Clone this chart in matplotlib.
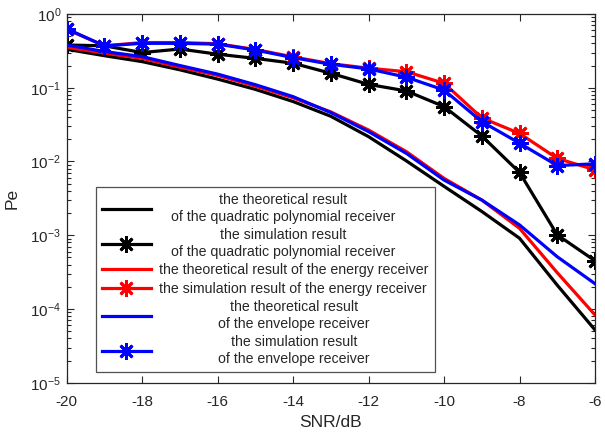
import matplotlib
matplotlib.use("Agg")
import matplotlib.pyplot as plt
import numpy as np
from matplotlib.ticker import FixedLocator, FuncFormatter, LogLocator, NullFormatter

plt.rcParams['font.family'] = ['Liberation Sans', 'DejaVu Sans']
plt.rcParams['mathtext.default'] = 'regular'
plt.rcParams['axes.unicode_minus'] = False

snr = [-20, -19, -18, -17, -16, -15, -14, -13, -12, -11, -10, -9, -8, -7, -6]

theo_quad = [0.332, 0.272, 0.226, 0.175, 0.131, 0.095, 0.065, 0.041, 0.0217, 0.0102,
             0.0046, 0.0021, 0.00091, 0.00021, 5.2e-5]
sim_quad = [0.38, 0.37, 0.30, 0.335, 0.285, 0.25, 0.215, 0.157, 0.111, 0.0905,
            0.0555, 0.0222, 0.0071, 0.00101, 0.00045]
theo_energy = [0.353, 0.295, 0.25, 0.19, 0.147, 0.105, 0.073, 0.047, 0.0267, 0.0136,
               0.0059, 0.0030, 0.00124, 0.00031, 8.3e-5]
sim_energy = [0.62, 0.37, 0.41, 0.41, 0.395, 0.33, 0.262, 0.212, 0.184, 0.165,
              0.115, 0.039, 0.024, 0.011, 0.0077]
theo_env = [0.38, 0.31, 0.264, 0.2, 0.153, 0.11, 0.0757, 0.046, 0.0254, 0.0129,
            0.0056, 0.0030, 0.00138, 0.00051, 0.00022]
sim_env = [0.63, 0.37, 0.40, 0.40, 0.39, 0.325, 0.256, 0.208, 0.18, 0.139,
           0.093, 0.0347, 0.0177, 0.0088, 0.0093]

labels = [
    "the theoretical result\nof the quadratic polynomial receiver",
    "the simulation result\nof the quadratic polynomial receiver",
    "the theoretical result of the energy receiver",
    "the simulation result of the energy receiver",
    "the theoretical result\nof the envelope receiver",
    "the simulation result\nof the envelope receiver",
]
xticks = [-20, -18, -16, -14, -12, -10, -8, -6]
ytick_exps = [0, -1, -2, -3, -4, -5]

axc = (0.15, 0.15, 0.15)
fig = plt.figure(figsize=(6.05, 4.32), dpi=100)
ax = fig.add_axes([0.1102, 0.1141, 0.8733, 0.8535])

star = (8, 2, 0)
lw = 2.3
ms = 12
mew = 2.0
ax.plot(snr, theo_quad, color='black', lw=lw, label=labels[0])
ax.plot(snr, sim_quad, color='black', lw=lw, marker=star, ms=ms, mew=mew, label=labels[1])
ax.plot(snr, theo_energy, color='red', lw=lw, label=labels[2])
ax.plot(snr, sim_energy, color='red', lw=lw, marker=star, ms=ms, mew=mew, label=labels[3])
ax.plot(snr, theo_env, color='blue', lw=lw, label=labels[4])
ax.plot(snr, sim_env, color='blue', lw=lw, marker=star, ms=ms, mew=mew, label=labels[5])

ax.set_yscale('log')
ax.set_xlim(-20, -6)
ax.set_ylim(1e-5, 1)
ax.xaxis.set_major_locator(FixedLocator(xticks))
ax.yaxis.set_major_locator(FixedLocator([10.0 ** e for e in ytick_exps]))
ax.yaxis.set_major_formatter(FuncFormatter(lambda v, p: r'$10^{%d}$' % int(round(np.log10(v)))))
ax.yaxis.set_minor_locator(LogLocator(base=10, subs=np.arange(2, 10)))
ax.yaxis.set_minor_formatter(NullFormatter())
ax.tick_params(which='both', direction='in', top=True, right=True, colors=axc,
               labelsize=11, labelcolor=axc)
ax.tick_params(which='major', length=5, width=0.8)
ax.tick_params(which='minor', length=3, width=0.8)
ax.tick_params(axis='x', pad=9)
ax.tick_params(axis='y', pad=4)
for s in ax.spines.values():
    s.set_color(axc)
    s.set_linewidth(0.9)

ax.set_xlabel('SNR/dB', fontsize=12.5, color=axc, labelpad=4)
ax.set_ylabel('Pe', fontsize=12.5, color=axc, labelpad=8)

leg = ax.legend(loc='lower left', bbox_to_anchor=(0.0555, 0.029), borderaxespad=0,
                fontsize=10.2, frameon=True, fancybox=False, handlelength=3.4,
                handletextpad=0.6, labelspacing=0.3, borderpad=0.45)
leg.get_frame().set_edgecolor(axc)
leg.get_frame().set_linewidth(0.9)
texts = leg.get_texts()
for t in texts:
    t.set_multialignment('center')
    t.set_linespacing(1.25)
    t.set_color(axc)

# centre the two-line entries in the text column, as in the reference
fig.canvas.draw()
r = fig.canvas.get_renderer()
widths = [t.get_window_extent(r).width for t in texts]
wmax = max(widths)
extra = [-11, -11, 0, 0, 0, 0]
for t, w, e in zip(texts, widths, extra):
    t.set_x((wmax - w) / 2 + e if w < wmax - 2 else 0)

fig.savefig('out.png', dpi=100)
